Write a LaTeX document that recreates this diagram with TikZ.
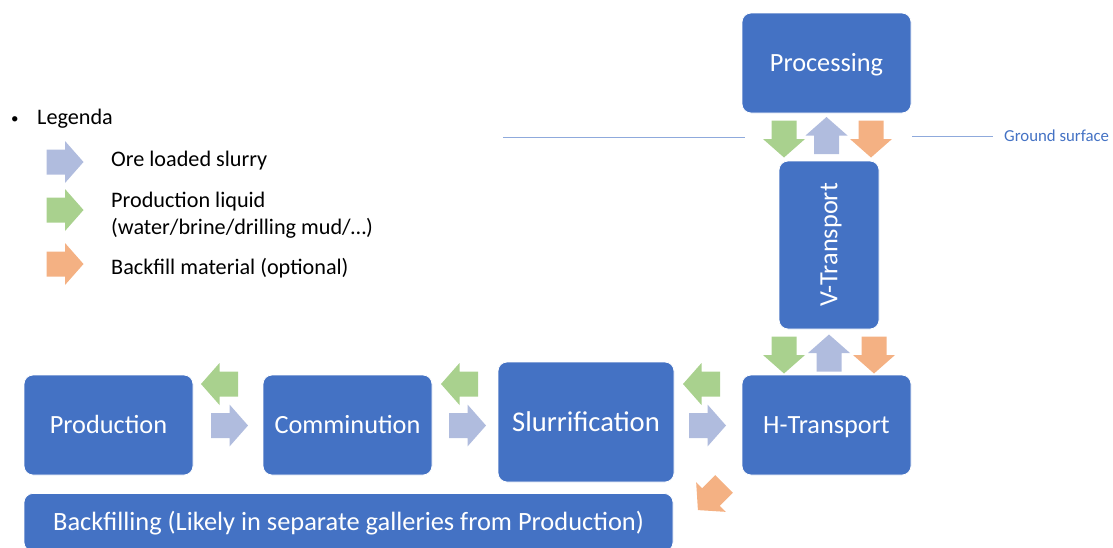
\documentclass[tikz,border=0pt]{standalone}
\usepackage{fontspec}
\setmainfont{Carlito}
\definecolor{boxblue}{RGB}{68,114,196}
\definecolor{oreblue}{RGB}{176,188,222}
\definecolor{liqgreen}{RGB}{169,209,142}
\definecolor{fillorange}{RGB}{244,177,131}
\definecolor{groundline}{RGB}{143,170,220}
\tikzset{
  stagebox/.style={fill=boxblue, draw=white, line width=0.8pt, rounded corners=9pt,
    text=white, inner sep=0pt, text height=19.7pt, text depth=2.8pt,
    font=\fontsize{26.3}{30}\selectfont},
  legtext/.style={anchor=mid west, inner sep=0pt, font=\fontsize{22.2}{26}\selectfont},
  barrow/.pic={\path[pic actions] (-18.5,-12.5) -- (0,-12.5) -- (0,-21) -- (18.5,0)
      -- (0,21) -- (0,12.5) -- (-18.5,12.5) -- cycle;},
  ore/.style={fill=oreblue},
  liq/.style={fill=liqgreen},
  bkf/.style={fill=fillorange},
}
\begin{document}
\begin{tikzpicture}[x=1pt,y=-1pt]
\useasboundingbox (0,0) rectangle (1113,547);
\clip (0,0) rectangle (1113,547);

% stage boxes
\node[stagebox, minimum width=169, minimum height=100] (proc) at (826.5,63) {Processing};
\node[stagebox, minimum width=100, minimum height=168] (vt) at (829,245) {};
\node[text=white, rotate=90, inner sep=0pt, text height=19.7pt, text depth=2.8pt,
  font=\fontsize{26.3}{30}\selectfont] (vtlabel) at (vt.center) {V-Transport};
\node[stagebox, minimum width=169, minimum height=100] (ht) at (826.5,425) {H-Transport};
\node[stagebox, minimum width=176, minimum height=120, text height=21.4pt, text depth=3pt,
  font=\fontsize{28.6}{32}\selectfont] (slurr) at (586,422) {Slurrification};
\node[stagebox, minimum width=169, minimum height=100] (comm) at (347.5,425) {Comminution};
\node[stagebox, minimum width=169, minimum height=100] (prod) at (108.5,425) {Production};
\node[stagebox, minimum width=649, minimum height=58, anchor=north, font=\fontsize{26.4}{30}\selectfont] (back) at (348.5,493) {Backfilling (Likely in separate galleries from Production)};

% ground surface
\coordinate (gl1) at (503,137);
\coordinate (gl2) at (745,137);
\coordinate (gr1) at (912,136);
\coordinate (gr2) at (993,136);
\draw[groundline, line width=0.8pt] (gl1) -- (gl2);
\draw[groundline, line width=0.8pt] (gr1) -- (gr2);
\node[anchor=west, inner sep=0pt, text=boxblue, font=\fontsize{16.8}{20}\selectfont] (ground) at (1004,136) {Ground surface};

% flow arrows between Processing and V-Transport
\pic[liq, rotate=-90] at (784,139) {barrow};
\pic[ore, rotate=90] at (826.5,135.5) {barrow};
\pic[bkf, rotate=-90] at (871,139) {barrow};
% between V-Transport and H-Transport
\pic[liq, rotate=-90] at (784,355) {barrow};
\pic[ore, rotate=90] at (829,353) {barrow};
\pic[bkf, rotate=-90] at (874,355) {barrow};
% left of H-Transport
\pic[liq, rotate=180] at (701.5,384) {barrow};
\pic[ore] at (707.5,425.5) {barrow};
\pic[bkf, rotate=225] at (711,497) {barrow};
% between Comminution and Slurrification
\pic[liq, rotate=180] at (459.5,384) {barrow};
\pic[ore] at (467.5,425.5) {barrow};
% between Production and Comminution
\pic[liq, rotate=180] at (219.5,384) {barrow};
\pic[ore] at (229.5,425.5) {barrow};

% legend
\node[anchor=mid west, inner sep=0pt, font=\fontsize{15}{18}\selectfont] (bullet) at (11,121) {•};
\node[legtext] (legenda) at (37,122) {Legenda};
\pic[ore] at (65,162) {barrow};
\pic[liq] at (65,210) {barrow};
\pic[bkf] at (65,264) {barrow};
\node[legtext] (l1) at (111,164) {Ore loaded slurry};
\node[legtext] (l2) at (111,205) {Production liquid};
\node[legtext] (l3) at (111,232) {(water/brine/drilling mud/…)};
\node[legtext] (l4) at (111,272) {Backfill material (optional)};
\end{tikzpicture}
\end{document}
